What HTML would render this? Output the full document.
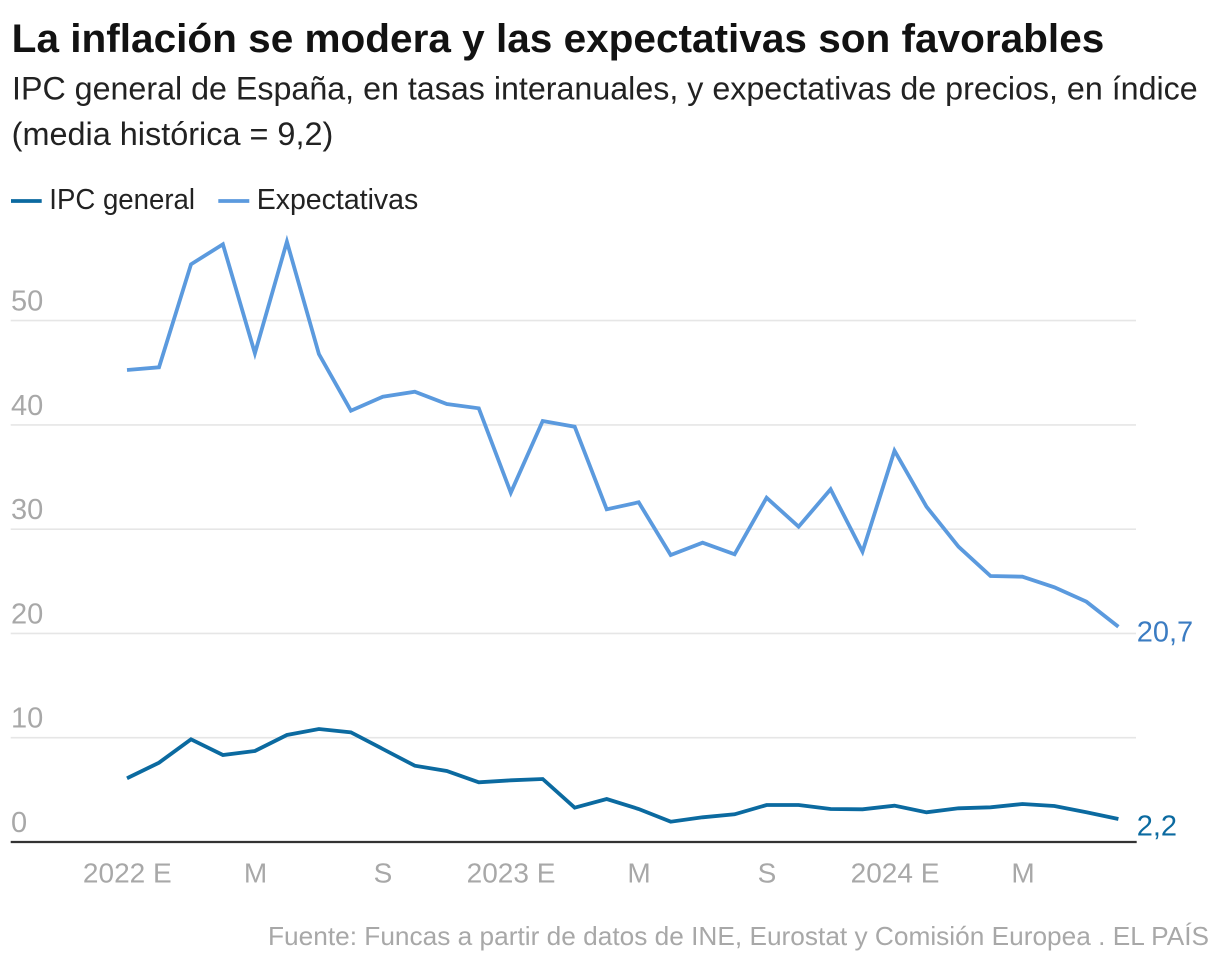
<!DOCTYPE html>
<html>
<head>
<meta charset="utf-8">
<style>
  html,body{margin:0;padding:0;background:#fff;}
  svg{display:block;}
  text{font-family:"Liberation Sans", Arial, sans-serif;}
</style>
</head>
<body>
<svg width="1220" height="968" viewBox="0 0 1220 968" xmlns="http://www.w3.org/2000/svg">
  <rect width="1220" height="968" fill="#fff"/>
  <!-- Title -->
  <text x="11.7" y="52" font-size="40" font-weight="bold" fill="#121212" textLength="1092.6" lengthAdjust="spacingAndGlyphs">La inflación se modera y las expectativas son favorables</text>
  <!-- Subtitle -->
  <text x="12" y="99.3" font-size="32" fill="#222" textLength="1185.7" lengthAdjust="spacingAndGlyphs">IPC general de España, en tasas interanuales, y expectativas de precios, en índice</text>
  <text x="11.7" y="145" font-size="32" fill="#222" textLength="321.6" lengthAdjust="spacingAndGlyphs">(media histórica = 9,2)</text>

  <!-- Legend -->
  <line x1="11" y1="201" x2="41.7" y2="201" stroke="#0b6aa0" stroke-width="3.8"/>
  <text x="49.3" y="209" font-size="29" fill="#222" textLength="145.7" lengthAdjust="spacingAndGlyphs">IPC general</text>
  <line x1="218.3" y1="201" x2="249.3" y2="201" stroke="#5b9ade" stroke-width="3.8"/>
  <text x="256.7" y="209" font-size="29" fill="#222" textLength="161.6" lengthAdjust="spacingAndGlyphs">Expectativas</text>

  <!-- Gridlines -->
  <g stroke="#e6e6e6" stroke-width="1.6">
    <line x1="10.7" y1="737.7" x2="1136" y2="737.7"/>
    <line x1="10.7" y1="633.4" x2="1136" y2="633.4"/>
    <line x1="10.7" y1="529.2" x2="1136" y2="529.2"/>
    <line x1="10.7" y1="424.9" x2="1136" y2="424.9"/>
    <line x1="10.7" y1="320.6" x2="1136" y2="320.6"/>
  </g>
  <line x1="10.7" y1="842" x2="1136.7" y2="842" stroke="#333" stroke-width="2.2"/>

  <!-- Y tick labels -->
  <g font-size="29" fill="#a8a8a8">
    <text x="11" y="832">0</text>
    <text x="11" y="727.7">10</text>
    <text x="11" y="623.4">20</text>
    <text x="11" y="519.2">30</text>
    <text x="11" y="414.9">40</text>
    <text x="11" y="310.6">50</text>
  </g>

  <!-- X tick labels -->
  <g font-size="28" fill="#a8a8a8" text-anchor="middle">
    <text x="127.3" y="882.7">2022 E</text>
    <text x="255.5" y="882.7">M</text>
    <text x="383" y="882.7">S</text>
    <text x="511" y="882.7">2023 E</text>
    <text x="639" y="882.7">M</text>
    <text x="767" y="882.7">S</text>
    <text x="895" y="882.7">2024 E</text>
    <text x="1023" y="882.7">M</text>
  </g>

  <!-- Expectativas -->
  <polyline fill="none" stroke="#5b9ade" stroke-width="3.8" stroke-linejoin="miter" stroke-linecap="butt"
    points="127,370 159,367.3 191,264.3 222.9,244.3 254.9,353.3 286.9,241.7 318.9,354 350.9,410.7 382.8,396.7 414.8,391.7 446.8,404 478.8,408.3 510.8,492.7 542.7,421 574.7,426.7 606.7,509.3 638.7,502.3 670.7,555 702.6,542.7 734.6,554.3 766.6,497.7 798.6,526.7 830.6,489.3 862.5,551.7 894.5,450.7 926.5,506.7 958.5,546.7 990.5,576 1022.4,576.7 1054.4,587.3 1086.4,601.7 1118.4,626.7"/>

  <!-- IPC general -->
  <polyline fill="none" stroke="#0b6aa0" stroke-width="3.8" stroke-linejoin="miter" stroke-linecap="butt"
    points="127,778.3 159,762.7 191,739.3 222.9,755 254.9,751 286.9,735 318.9,729 350.9,732.3 382.8,749 414.8,765.7 446.8,771 478.8,782.3 510.8,780.3 542.7,779 574.7,807.7 606.7,799 638.7,809 670.7,821.7 702.6,817.3 734.6,814.3 766.6,805 798.6,805 830.6,809 862.5,809.3 894.5,805.7 926.5,812.3 958.5,808.3 990.5,807.3 1022.4,804 1054.4,806 1086.4,812.3 1118.4,819"/>

  <!-- End labels -->
  <text x="1136.7" y="641.7" font-size="29" fill="#3b7cc2">20,7</text>
  <text x="1136.7" y="835.7" font-size="29" fill="#0b6aa0">2,2</text>

  <!-- Footer -->
  <text x="1209" y="945" font-size="26" fill="#a8a8a8" text-anchor="end" textLength="941" lengthAdjust="spacingAndGlyphs">Fuente: Funcas a partir de datos de INE, Eurostat y Comisión Europea . EL PAÍS</text>
</svg>
</body>
</html>
